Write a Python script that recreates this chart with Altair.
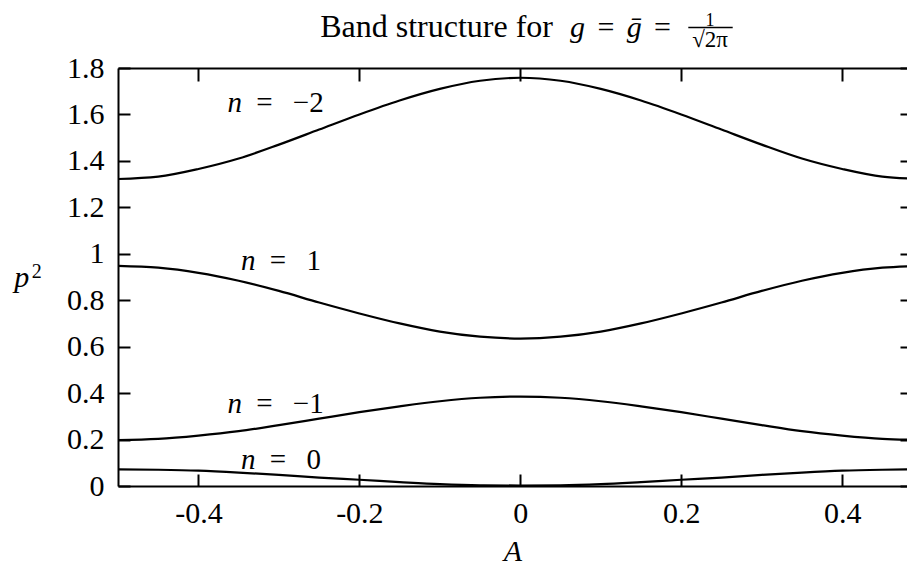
import altair as alt
import pandas as pd

# ---- data ----
A_vals = [-0.5, -0.45, -0.4, -0.35, -0.3, -0.25, -0.2, -0.15, -0.1, -0.05, 0.0,
          0.05, 0.1, 0.15, 0.2, 0.25, 0.3, 0.35, 0.4, 0.45, 0.5]
band_m2 = [1.322, 1.332, 1.365, 1.41, 1.47, 1.535, 1.60, 1.66, 1.71, 1.745, 1.758,
           1.745, 1.71, 1.66, 1.60, 1.535, 1.47, 1.41, 1.365, 1.332, 1.322]
band_p1 = [0.948, 0.94, 0.918, 0.884, 0.84, 0.79, 0.743, 0.70, 0.665, 0.643, 0.635,
           0.643, 0.665, 0.70, 0.743, 0.79, 0.84, 0.884, 0.918, 0.94, 0.948]
band_m1 = [0.198, 0.203, 0.217, 0.236, 0.262, 0.29, 0.318, 0.343, 0.365, 0.38, 0.385,
           0.38, 0.365, 0.343, 0.318, 0.29, 0.262, 0.236, 0.217, 0.203, 0.198]
band_0 = [0.072, 0.070, 0.066, 0.058, 0.048, 0.036, 0.027, 0.017, 0.008, 0.003, 0.002,
          0.003, 0.008, 0.017, 0.027, 0.036, 0.048, 0.058, 0.066, 0.070, 0.072]
band_names = ["n=-2", "n=1", "n=-1", "n=0"]

x_ticks = [-0.4, -0.2, 0, 0.2, 0.4]
y_ticks = [0, 0.2, 0.4, 0.6, 0.8, 1.0, 1.2, 1.4, 1.6, 1.8]

label_text = ["\u22122", "1", "\u22121", "0"]
label_A = [-0.364, -0.347, -0.364, -0.347]
label_p2 = [1.611, 0.930, 0.314, 0.073]

# ---- tables ----
rows = []
for name, vals in zip(band_names, [band_m2, band_p1, band_m1, band_0]):
    for a, v in zip(A_vals, vals):
        rows.append({"band": name, "A": a, "p2": v})
df = pd.DataFrame(rows)

lab_df = pd.DataFrame({"lab": label_text, "A": label_A, "p2": label_p2})
lab_df["eq"] = "=\u2002\u2009" + lab_df["lab"]

FONT = "Liberation Serif"
# the reference plot runs past the right edge of the picture; show the visible part
xs = alt.Scale(domain=[-0.5, 0.4806], nice=False, zero=False)
ys = alt.Scale(domain=[0, 1.8], nice=False, zero=False)

x_lab_expr = "(datum.value < 0 ? '-' : '') + format(abs(datum.value), '.1~f')"
y_lab_expr = "format(datum.value, '.1~f')"

# main curves + labelled axes (bottom / left borders)
lines = alt.Chart(df).mark_line(
    color="black", strokeWidth=2.2, clip=True, interpolate="monotone"
).encode(
    x=alt.X("A:Q", scale=xs, axis=alt.Axis(
        orient="bottom", values=x_ticks, ticks=False, domain=True,
        domainColor="black", domainWidth=2, labelFont=FONT, labelFontSize=30,
        labelColor="black", labelPadding=12, labelExpr=x_lab_expr,
        labelFlush=False, labelOverlap=False, grid=False,
        title="A", titleFont=FONT, titleFontSize=30, titleFontStyle="italic",
        titleFontWeight="normal", titleColor="black",
        titleBaseline="alphabetic", titleY=74)),
    y=alt.Y("p2:Q", scale=ys, axis=alt.Axis(
        orient="left", values=y_ticks, ticks=False, domain=True,
        domainColor="black", domainWidth=2, labelFont=FONT, labelFontSize=30,
        labelColor="black", labelPadding=14, labelExpr=y_lab_expr,
        labelOverlap=False, grid=False, title=None)),
    detail="band:N",
)

ghost = alt.Chart(df).mark_line(opacity=0, clip=True)

# inward ticks on bottom and left
ticks_bl = ghost.encode(
    x=alt.X("A:Q", scale=xs, axis=alt.Axis(
        orient="bottom", values=x_ticks, offset=-12, tickSize=12, tickWidth=2,
        tickColor="black", labels=False, domain=False, title=None, grid=False)),
    y=alt.Y("p2:Q", scale=ys, axis=alt.Axis(
        orient="left", values=y_ticks, offset=-12, tickSize=12, tickWidth=2,
        tickColor="black", labels=False, domain=False, title=None, grid=False)),
    detail="band:N",
)

# inward mirror ticks on top and right
ticks_tr = ghost.encode(
    x=alt.X("A:Q", scale=xs, axis=alt.Axis(
        orient="top", values=x_ticks, offset=-13, tickSize=13, tickWidth=2,
        tickColor="black", labels=False, domain=False, title=None, grid=False)),
    y=alt.Y("p2:Q", scale=ys, axis=alt.Axis(
        orient="right", values=y_ticks, offset=-7, tickSize=7, tickWidth=2,
        tickColor="black", labels=False, domain=False, title=None, grid=False)),
    detail="band:N",
)

# top border
top_border = ghost.encode(
    x=alt.X("A:Q", scale=xs, axis=alt.Axis(
        orient="top", values=x_ticks, ticks=False, labels=False, domain=True,
        domainColor="black", domainWidth=2, title=None, grid=False)),
    y=alt.Y("p2:Q", scale=ys, axis=None),
    detail="band:N",
)

# curve labels
n_layer = alt.Chart(lab_df).mark_text(
    text="n", font=FONT, fontSize=29, fontStyle="italic", align="left",
    baseline="alphabetic", color="black"
).encode(
    x=alt.X("A:Q", scale=xs, axis=None),
    y=alt.Y("p2:Q", scale=ys, axis=None),
)
eq_layer = alt.Chart(lab_df).mark_text(
    font=FONT, fontSize=29, align="left", baseline="alphabetic",
    color="black", dx=28.7
).encode(
    x=alt.X("A:Q", scale=xs, axis=None),
    y=alt.Y("p2:Q", scale=ys, axis=None),
    text="eq:N",
)

one = pd.DataFrame({"k": [0]})


def txt(s, x, y, size, style="normal", align="left"):
    return alt.Chart(one).mark_text(
        text=s, font=FONT, fontSize=size, fontStyle=style, align=align,
        baseline="alphabetic", color="black"
    ).encode(x=alt.value(x), y=alt.value(y))


TB = -31.5  # title baseline, relative to the plot's top edge
title_parts = [
    txt("Band structure for", 435, TB, 32, align="right"),
    txt("g", 452, TB, 30, style="italic"),
    txt("=", 488, TB, 30, align="center"),
    txt("\u1e21", 508.7, TB, 30, style="italic"),
    txt("=", 544.5, TB, 30, align="center"),
    txt("1", 592, -42.3, 18, align="center"),
    txt("\u221a2\u03c0", 592, -21.5, 23, align="center"),
    # y-axis title p^2
    txt("p", -96.3, 219.3, 30, style="italic", align="center"),
    txt("2", -86.3, 210, 20),
]
frac_bar = alt.Chart(one).mark_rule(color="black", strokeWidth=1.5).encode(
    x=alt.value(570.3), x2=alt.value(614.7), y=alt.value(-40.5)
)

chart = alt.layer(
    lines, ticks_bl, ticks_tr, top_border, n_layer, eq_layer, frac_bar, *title_parts
).resolve_axis(
    x="independent", y="independent"
).properties(
    width=789, height=418,
    autosize=alt.AutoSizeParams(type="none"),
    padding={"left": 110, "top": 60, "right": 0, "bottom": 90},
).configure_view(stroke=None).configure_axis(grid=False)

chart.save("out.html", embed_options={"renderer": "svg", "actions": False})
